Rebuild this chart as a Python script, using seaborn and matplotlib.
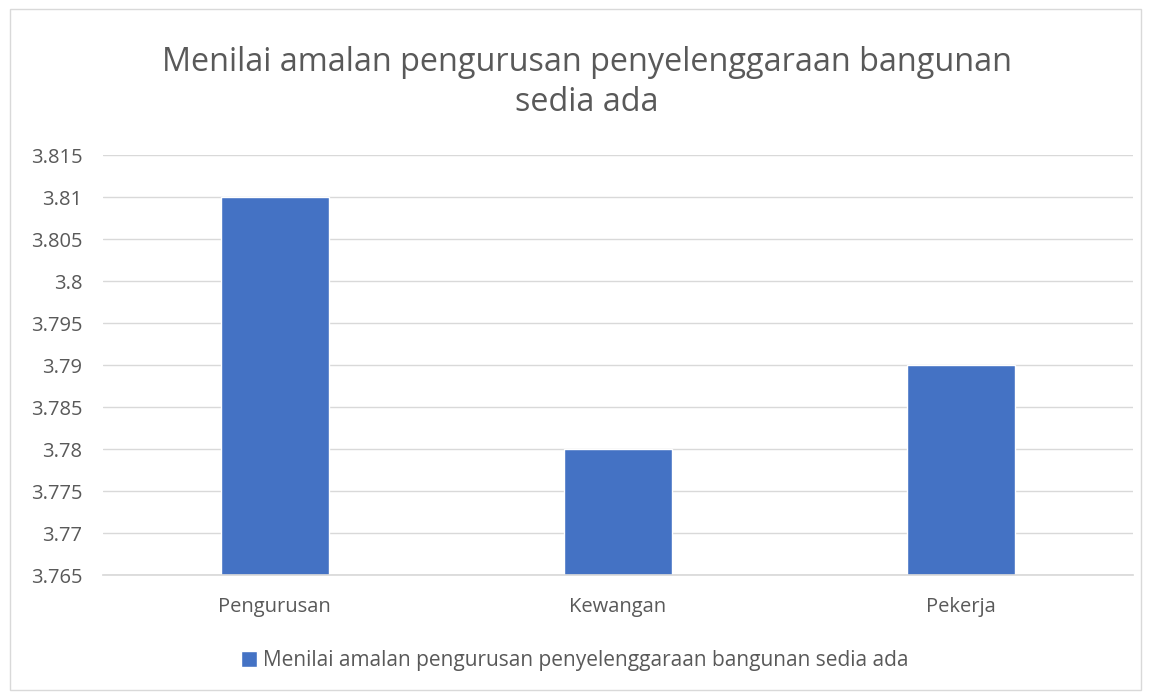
import matplotlib

matplotlib.use("Agg")
import matplotlib.pyplot as plt
import pandas as pd
import seaborn as sns
from matplotlib.patches import Rectangle

# data dari carta asal
kategori = ["Pengurusan", "Kewangan", "Pekerja"]
nilai = [3.81, 3.78, 3.79]
tajuk = "Menilai amalan pengurusan penyelenggaraan bangunan\nsedia ada"
label_siri = "Menilai amalan pengurusan penyelenggaraan bangunan sedia ada"
y_ticks = [3.765, 3.77, 3.775, 3.78, 3.785, 3.79, 3.795, 3.8, 3.805, 3.81, 3.815]
y_labels = ["3.765", "3.77", "3.775", "3.78", "3.785", "3.79", "3.795", "3.8", "3.805", "3.81", "3.815"]

BIRU = "#4472C4"
KELABU = "#595959"

sns.set_theme(style="white")
plt.rcParams["font.family"] = ["Open Sans", "DejaVu Sans"]

df = pd.DataFrame({"kategori": kategori, "nilai": nilai})

fig = plt.figure(figsize=(11.5, 6.92), dpi=100)
# bingkai luar carta
fig.patches.append(Rectangle((0.009, 0.003), 0.983, 0.984, transform=fig.transFigure,
                             fill=False, edgecolor="#d9d9d9", linewidth=1))
ax = fig.add_axes([0.0896, 0.169, 0.8954, 0.607])

sns.barplot(data=df, x="kategori", y="nilai", color=BIRU, width=0.315,
            saturation=1, ax=ax, label=label_siri)
ax.set_ylim(3.765, 3.815)
ax.set_xlim(-0.5, 2.5)
ax.set_yticks(y_ticks)
ax.set_yticklabels(y_labels)
ax.yaxis.grid(True, color="#d9d9d9", linewidth=1)
ax.set_axisbelow(True)
for s in ["top", "right", "left"]:
    ax.spines[s].set_visible(False)
ax.spines["bottom"].set_color("#d9d9d9")
ax.tick_params(axis="both", colors=KELABU, labelsize=14.5, length=0)
ax.tick_params(axis="x", pad=16)
ax.tick_params(axis="y", pad=15)
ax.set_xlabel("")
ax.set_ylabel("")

fig.text(0.51, 0.934, tajuk, ha="center", va="top", fontsize=23.3, color=KELABU,
         linespacing=1.3)

leg = ax.legend(loc="center", bbox_to_anchor=(0.5, 0.045), bbox_transform=fig.transFigure,
                frameon=False, fontsize=15, handlelength=0.75, handleheight=0.75,
                handletextpad=0.3)
for t in leg.get_texts():
    t.set_color(KELABU)

fig.savefig("out.png", dpi=100)
plt.close()
